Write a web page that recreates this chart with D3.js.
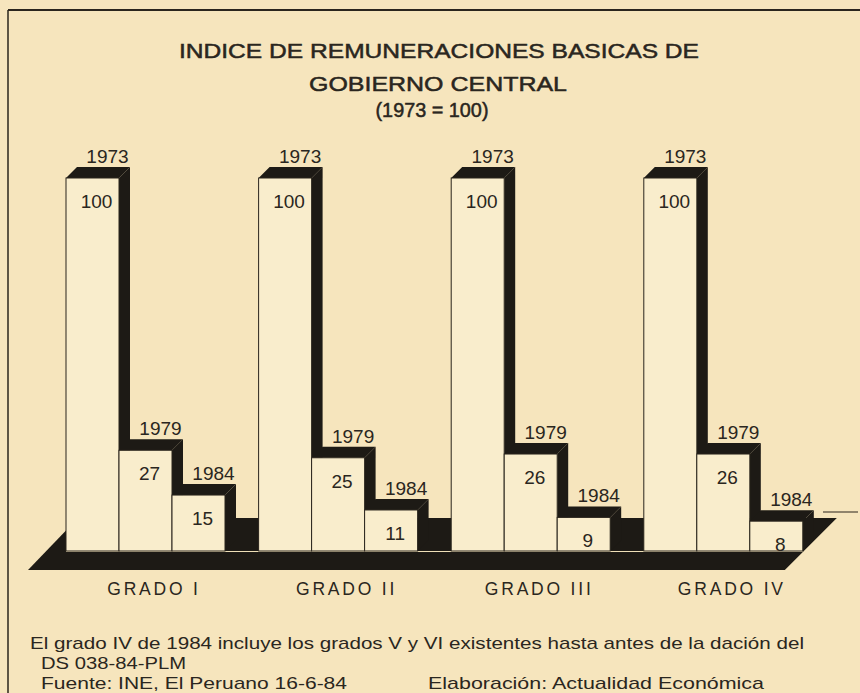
<!DOCTYPE html>
<html><head><meta charset="utf-8">
<script src="https://cdn.jsdelivr.net/npm/d3@7"></script>
<style>
html,body{margin:0;padding:0;background:#f6e5bd;}
svg{display:block;}
</style></head>
<body>
<svg id="chart" width="860" height="693"></svg>
<script>
const groups = ["GRADO I", "GRADO II", "GRADO III", "GRADO IV"];
const years = ["1973", "1979", "1984"];
const v1973 = [100, 100, 100, 100];
const v1979 = [27, 25, 26, 26];
const v1984 = [15, 11, 9, 8];
const titleLines = ["INDICE DE REMUNERACIONES BASICAS DE", "GOBIERNO  CENTRAL", "(1973 = 100)"];
const notes = ["El grado IV de 1984 incluye los grados V y VI existentes hasta antes de la dación del", "DS 038-84-PLM", "Fuente: INE, El Peruano 16-6-84", "Elaboración: Actualidad Económica"];

const series = [v1973, v1979, v1984];
const W = 860, H = 693;
const bg = "#f6e5bd", front = "#f9edcc", dark = "#1d1a15", ink = "#2a2620";
const svg = d3.select("#chart");

svg.append("rect").attr("width", W).attr("height", H).attr("fill", bg);
// frame
svg.append("line").attr("x1", 8).attr("x2", W).attr("y1", 10).attr("y2", 10).attr("stroke", "#2a251d").attr("stroke-width", 2);
svg.append("line").attr("x1", 8).attr("x2", 8).attr("y1", 10).attr("y2", H).attr("stroke", "#2a251d").attr("stroke-width", 1.5);

const y = d3.scaleLinear().domain([0, 100]).range([551, 178]);
const x0 = d3.scaleBand().domain(groups).range([66, 66 + 4 * 192.6]).padding(0);
const x1 = d3.scaleBand().domain(years).range([0, 159]).padding(0);
const dx = 11, dy = -11;
const floorT = 19, floorD = 52;

// floor slab
const fx0 = x0.range()[0], fx1 = x0(groups[3]) + x1.range()[1];
const fy = y(0);
svg.append("path")
  .attr("d", `M${fx0 - 38},${fy + floorT} L${fx1 - 18},${fy + floorT} L${fx1 - 18 + floorD},${fy + floorT - floorD} L${fx0 + 12},${fy + floorT - floorD} Z`)
  .attr("fill", dark);
svg.append("line").attr("x1", fx0).attr("x2", fx1).attr("y1", fy + 0.5).attr("y2", fy + 0.5).attr("stroke", "#efe0b8").attr("stroke-width", 1.2);
// small stray dash at right
svg.append("line").attr("x1", 823).attr("x2", 858).attr("y1", 512).attr("y2", 512).attr("stroke", "#2a251d").attr("stroke-width", 1.2);

const font = "'Liberation Sans', Arial, Helvetica, sans-serif";

groups.forEach((g, gi) => {
  const gg = svg.append("g");
  years.forEach((yr, yi) => {
    const v = series[yi][gi];
    const xl = x0(g) + x1(yr), w = x1.bandwidth();
    const yt = y(v), yb = y(0);
    // side face
    gg.append("path").attr("d", `M${xl + w},${yt} L${xl + w + dx},${yt + dy} L${xl + w + dx},${yb + dy} L${xl + w},${yb} Z`).attr("fill", dark);
    // top face
    gg.append("path").attr("d", `M${xl},${yt} L${xl + dx},${yt + dy} L${xl + w + dx},${yt + dy} L${xl + w},${yt} Z`).attr("fill", dark);
    // front face
    gg.append("rect").attr("x", xl).attr("y", yt).attr("width", w).attr("height", yb - yt)
      .attr("fill", front).attr("stroke", "#2a251d").attr("stroke-width", 1);
    // labels
    gg.append("text").attr("x", xl + w / 2 + 15).attr("y", yt - 15).attr("text-anchor", "middle")
      .attr("font-family", font).attr("font-size", 19).attr("fill", ink).text(yr);
    gg.append("text").attr("x", xl + w / 2 + 4).attr("y", yt + 30).attr("text-anchor", "middle")
      .attr("font-family", font).attr("font-size", 19).attr("fill", ink).text(v);
  });
  svg.append("text").attr("x", x0(g) + 88).attr("y", 595).attr("text-anchor", "middle")
    .attr("font-family", font).attr("font-size", 17.5).attr("letter-spacing", 2.8).attr("fill", ink).text(g);
});

// title
const tpos = [[439, 58, 520], [438, 91, 258], [432, 117, 113]];
titleLines.forEach((t, i) => {
  svg.append("text").attr("x", tpos[i][0]).attr("y", tpos[i][1]).attr("text-anchor", "middle")
    .attr("font-family", font).attr("font-size", 21).attr("fill", ink)
    .attr("stroke", ink).attr("stroke-width", 0.5)
    .attr("textLength", tpos[i][2]).attr("lengthAdjust", "spacingAndGlyphs").text(t);
});

// notes
const npos = [[30, 649, 774], [41, 669, 145], [41, 689, 306], [428, 689, 336]];
notes.forEach((t, i) => {
  svg.append("text").attr("x", npos[i][0]).attr("y", npos[i][1])
    .attr("font-family", font).attr("font-size", 17).attr("fill", ink)
    .attr("textLength", npos[i][2]).attr("lengthAdjust", "spacingAndGlyphs").text(t);
});
</script>
</body></html>
